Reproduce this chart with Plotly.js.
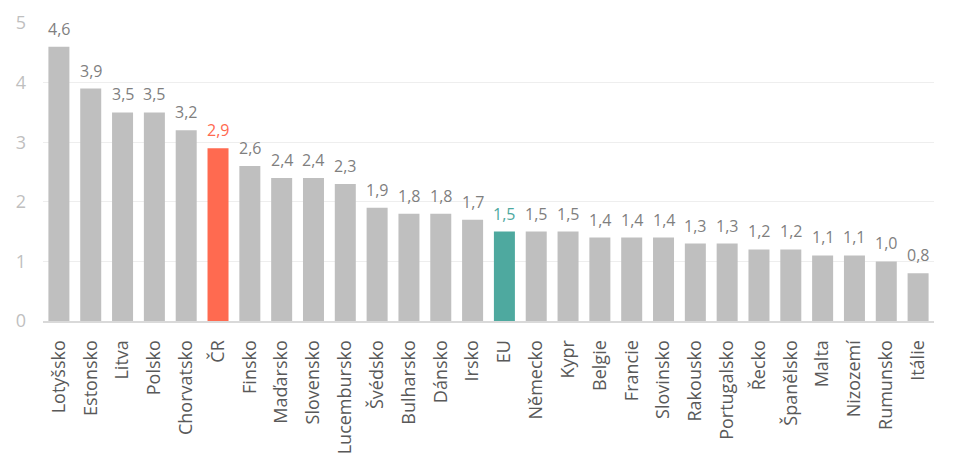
<!DOCTYPE html>
<html>
<head>
<meta charset="utf-8">
<script src="https://cdn.plot.ly/plotly-3.0.1.min.js"></script>
<style>
  html, body { margin: 0; padding: 0; background: #fff; }
  #chart { width: 954px; height: 461px; }
</style>
</head>
<body>
<div id="chart"></div>
<script>
// data
const countries = ['Lotyšsko', 'Estonsko', 'Litva', 'Polsko', 'Chorvatsko', 'ČR', 'Finsko', 'Maďarsko',
  'Slovensko', 'Lucembursko', 'Švédsko', 'Bulharsko', 'Dánsko', 'Irsko', 'EU', 'Německo', 'Kypr',
  'Belgie', 'Francie', 'Slovinsko', 'Rakousko', 'Portugalsko', 'Řecko', 'Španělsko', 'Malta',
  'Nizozemí', 'Rumunsko', 'Itálie'];
const values = [4.6, 3.9, 3.5, 3.5, 3.2, 2.9, 2.6, 2.4, 2.4, 2.3, 1.9, 1.8, 1.8, 1.7, 1.5, 1.5, 1.5,
  1.4, 1.4, 1.4, 1.3, 1.3, 1.2, 1.2, 1.1, 1.1, 1.0, 0.8];
const yTicks = [0, 1, 2, 3, 4, 5];

const grey = '#bfbfbf';
const red = '#ff6a50';
const teal = '#4ea99f';
const labelGrey = '#7f7f7f';

// highlight ČR and EU
const barColors = countries.map(c => c === 'ČR' ? red : (c === 'EU' ? teal : grey));
const textColors = countries.map(c => c === 'ČR' ? red : (c === 'EU' ? teal : labelGrey));

const trace = {
  type: 'bar',
  x: countries,
  y: values,
  marker: { color: barColors },
  cliponaxis: false,
  hoverinfo: 'x+y'
};

// value labels above the bars, placed on the axes
const valueLabels = countries.map((c, i) => ({
  x: c,
  y: values[i],
  xref: 'x',
  yref: 'y',
  text: values[i].toFixed(1).replace('.', ','),
  showarrow: false,
  yanchor: 'bottom',
  yshift: 5,
  font: { family: 'Open Sans, sans-serif', size: 16, color: textColors[i] }
}));

const layout = {
  width: 954,
  height: 461,
  margin: { t: 23, b: 140, l: 43, r: 20 },
  paper_bgcolor: '#ffffff',
  plot_bgcolor: '#ffffff',
  bargap: 0.34,
  showlegend: false,
  font: { family: 'Open Sans, sans-serif', color: '#595959' },
  annotations: valueLabels,
  xaxis: {
    type: 'category',
    tickangle: -90,
    tickfont: { size: 18, color: '#595959' },
    showline: true,
    linecolor: '#d9d9d9',
    linewidth: 2,
    ticks: '',
    ticklabelstandoff: 10,
    automargin: false
  },
  yaxis: {
    range: [0, 5],
    tickvals: yTicks,
    tickfont: { size: 18, color: '#bfbfbf' },
    gridcolor: '#eeeeee',
    zeroline: false,
    showline: false,
    ticks: '',
    ticklabelstandoff: 16,
    automargin: false
  }
};

Plotly.newPlot('chart', [trace], layout, { displayModeBar: false, staticPlot: true });
</script>
</body>
</html>
